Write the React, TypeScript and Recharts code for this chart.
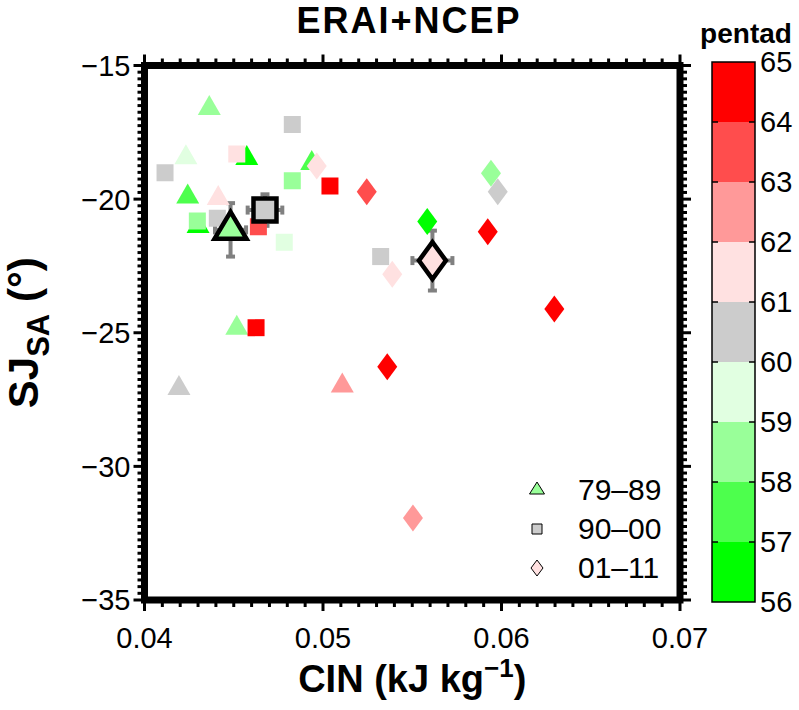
import React from 'react';
import { ScatterChart, Scatter, XAxis, YAxis, ReferenceArea, ErrorBar, Legend } from 'recharts';

// axis ticks
const xMajor = [0.04, 0.05, 0.06, 0.07];
const yMajor = [-35, -30, -25, -20, -15];
const xMinor = Array.from({ length: 31 }, (_, i) => +(0.04 + i * 0.001).toFixed(3));
const yMinor = Array.from({ length: 81 }, (_, i) => -35 + i * 0.25);

// colour bar
const pentadTicks = [56, 57, 58, 59, 60, 61, 62, 63, 64, 65];
const pentadColors = ['#00ff00', '#4dff4d', '#99ff99', '#e1ffe1', '#cccccc', '#ffe1e1', '#ff9999', '#ff4d4d', '#ff0000'];

// 79-89
const triCin = [0.04363, 0.04232, 0.04573, 0.04937, 0.04242, 0.04413, 0.043, 0.04517, 0.04193, 0.05108];
const triSj = [-16.6, -18.45, -18.47, -18.66, -19.91, -19.97, -21.02, -24.83, -27.08, -26.99];
const triPentad = [58, 59, 56, 57, 57, 61, 56, 58, 60, 62];

// 90-00
const sqCin = [0.04115, 0.04828, 0.04517, 0.04828, 0.05039, 0.04408, 0.04296, 0.04638, 0.04783, 0.05323, 0.04625];
const sqSj = [-19.01, -17.21, -18.31, -19.31, -19.51, -20.72, -20.82, -21.03, -21.61, -22.15, -24.81];
const sqPentad = [60, 60, 61, 58, 64, 60, 58, 63, 59, 60, 64];

// 01-11
const diaCin = [0.04965, 0.05245, 0.05941, 0.05979, 0.05584, 0.05923, 0.05388, 0.06296, 0.0536, 0.05504];
const diaSj = [-18.76, -19.72, -19.03, -19.72, -20.84, -21.22, -22.81, -24.11, -26.27, -31.93];
const diaPentad = [61, 63, 58, 60, 56, 64, 61, 64, 64, 62];

// period means
const periods = ['79–89', '90–00', '01–11'];
const meanCin = [0.04482, 0.04675, 0.05613];
const meanSj = [-21.15, -20.41, -22.3];
const meanCinErr = [0.00087, 0.00097, 0.00112];
const meanSjErr = [1.0, 0.59, 1.12];
const meanPentad = [58, 60, 61];

type Kind = 'triangle' | 'square' | 'diamond';
const kinds: Kind[] = ['triangle', 'square', 'diamond'];

const colorOf = (p: number) => pentadColors[Math.min(8, Math.max(0, Math.floor(p) - 56))];

const build = (xs: number[], ys: number[], ps: number[]) => xs.map((x, i) => ({ x, y: ys[i], pentad: ps[i] }));
const triData = build(triCin, triSj, triPentad);
const sqData = build(sqCin, sqSj, sqPentad);
const diaData = build(diaCin, diaSj, diaPentad);
const meanData = periods.map((name, i) => [
  { x: meanCin[i], y: meanSj[i], ex: meanCinErr[i], ey: meanSjErr[i], pentad: meanPentad[i] },
]);
// anchors so the colour-bar chart has its axis scale
const barAnchors = pentadTicks.map((p) => ({ x: 0.5, y: p }));

const sizes: any = {
  small: { triangle: [23, 20], square: [17, 17], diamond: [20, 27] },
  big: { triangle: [32, 27], square: [23, 23], diamond: [27, 37] },
  legend: { triangle: [15, 12], square: [10, 10], diamond: [12, 16] },
};

const Marker = ({ cx, cy, kind, fill, size, stroke, strokeWidth }: any) => {
  const dims = sizes[size] && sizes[size][kind];
  if (!dims || cx == null || cy == null) return null;
  const w = dims[0];
  const h = dims[1];
  let pts = '';
  if (kind === 'triangle') {
    pts = `${cx},${cy - (2 * h) / 3} ${cx + w / 2},${cy + h / 3} ${cx - w / 2},${cy + h / 3}`;
  } else if (kind === 'square') {
    pts = `${cx - w / 2},${cy - h / 2} ${cx + w / 2},${cy - h / 2} ${cx + w / 2},${cy + h / 2} ${cx - w / 2},${cy + h / 2}`;
  } else {
    pts = `${cx},${cy - h / 2} ${cx + w / 2},${cy} ${cx},${cy + h / 2} ${cx - w / 2},${cy}`;
  }
  return <polygon points={pts} fill={fill} stroke={stroke || 'none'} strokeWidth={strokeWidth || 0} strokeLinejoin="miter" />;
};

const isMajor = (v: number, majors: number[]) => majors.some((m) => Math.abs(m - v) < 1e-9);
const fmtY = (v: number) => (v < 0 ? '\u2212' + Math.abs(v) : String(v));

const BottomTick = ({ x, y, payload }: any) => {
  const major = isMajor(payload.value, xMajor);
  return (
    <g>
      <line x1={x} x2={x} y1={y} y2={y + (major ? 11 : 7)} stroke="#000" strokeWidth={3} />
      {major && (
        <text x={x} y={y + 48} textAnchor="middle" fontSize={29} fill="#000">
          {payload.value.toFixed(2)}
        </text>
      )}
    </g>
  );
};

const TopTick = ({ x, y, payload }: any) => {
  const major = isMajor(payload.value, xMajor);
  return <line x1={x} x2={x} y1={y} y2={y - (major ? 11 : 7)} stroke="#000" strokeWidth={3} />;
};

const LeftTick = ({ x, y, payload }: any) => {
  const major = isMajor(payload.value, yMajor);
  return (
    <g>
      <line x1={x} x2={x - (major ? 11 : 7)} y1={y} y2={y} stroke="#000" strokeWidth={3} />
      {major && (
        <text x={x - 14} y={y} dy="0.36em" textAnchor="end" fontSize={29} fill="#000">
          {fmtY(payload.value)}
        </text>
      )}
    </g>
  );
};

const RightTick = ({ x, y, payload }: any) => {
  const major = isMajor(payload.value, yMajor);
  return <line x1={x} x2={x + (major ? 11 : 7)} y1={y} y2={y} stroke="#000" strokeWidth={3} />;
};

const XTitle = ({ viewBox }: any) => {
  if (!viewBox) return null;
  return (
    <text x={viewBox.x + viewBox.width / 2} y={viewBox.y + viewBox.height + 32} textAnchor="middle" fontSize={38} fontWeight="bold" fill="#000">
      <tspan>CIN (kJ kg</tspan>
      <tspan dy={-15} fontSize={26}>{'\u2212'}1</tspan>
      <tspan dy={15}>)</tspan>
    </text>
  );
};

const YTitle = ({ viewBox }: any) => {
  if (!viewBox) return null;
  const tx = viewBox.x - 27;
  const ty = viewBox.y + viewBox.height / 2;
  return (
    <text x={tx} y={ty} transform={`rotate(-90, ${tx}, ${ty})`} textAnchor="middle" fontSize={42} fontWeight="bold" fill="#000">
      <tspan>SJ</tspan>
      <tspan dy={11} fontSize={31}>SA</tspan>
      <tspan dy={-11}> (°)</tspan>
    </text>
  );
};

const LegendContent = (props: any) => {
  const items = ((props && props.payload) || [])
    .filter((entry: any) => periods.indexOf(entry.value) >= 0)
    .sort((a: any, b: any) => periods.indexOf(a.value) - periods.indexOf(b.value));
  return (
    <div>
      {items.map((entry: any) => {
        const i = periods.indexOf(entry.value);
        return (
          <div key={entry.value} style={{ display: 'flex', alignItems: 'center', height: 39 }}>
            <svg width={24} height={39} style={{ marginRight: 29 }}>
              <Marker cx={12} cy={20} kind={kinds[i]} size="legend" fill={colorOf(meanPentad[i])} stroke="#000" strokeWidth={1} />
            </svg>
            <span style={{ fontSize: 30, lineHeight: '39px', color: '#000' }}>{entry.value}</span>
          </div>
        );
      })}
    </div>
  );
};

const cbWidth = 43;
const BarTick = ({ x, y, payload }: any) => {
  const inner = payload.value !== 56 && payload.value !== 65;
  return (
    <g>
      {inner && <line x1={x - 6} x2={x} y1={y} y2={y} stroke="#000" strokeWidth={1.5} />}
      {inner && <line x1={x - cbWidth} x2={x - cbWidth + 6} y1={y} y2={y} stroke="#000" strokeWidth={1.5} />}
      <text x={x + 5} y={y} dy="0.36em" fontSize={29} fill="#000">
        {payload.value}
      </text>
    </g>
  );
};

const TriShape = (p: any) => <Marker cx={p.cx} cy={p.cy} kind="triangle" size="small" fill={colorOf(p.payload ? p.payload.pentad : 60)} />;
const SqShape = (p: any) => <Marker cx={p.cx} cy={p.cy} kind="square" size="small" fill={colorOf(p.payload ? p.payload.pentad : 60)} />;
const DiaShape = (p: any) => <Marker cx={p.cx} cy={p.cy} kind="diamond" size="small" fill={colorOf(p.payload ? p.payload.pentad : 60)} />;
const smallShapes = [TriShape, SqShape, DiaShape];

const bigShape = (kind: Kind) => (p: any) => (
  <Marker cx={p.cx} cy={p.cy} kind={kind} size="big" fill={colorOf(p.payload ? p.payload.pentad : 60)} stroke="#000" strokeWidth={4.5} />
);
const bigShapes = kinds.map(bigShape);
const NoShape = () => <g />;

export default function App() {
  const series = [triData, sqData, diaData];
  return (
    <div style={{ position: 'absolute', left: 0, top: 0, width: 799, height: 710, background: '#fff', fontFamily: '"Liberation Sans", Arial, sans-serif' }}>
      <div style={{ position: 'absolute', left: 209, top: 1, width: 400, textAlign: 'center', fontSize: 36, lineHeight: '40px', letterSpacing: 2, fontWeight: 'bold' }}>
        ERAI+NCEP
      </div>
      <div style={{ position: 'absolute', left: 696, top: 20, width: 100, textAlign: 'center', fontSize: 28, lineHeight: '28px', fontWeight: 'bold' }}>
        pentad
      </div>

      <div style={{ position: 'absolute', left: 0, top: 0 }}>
        <ScatterChart width={799} height={710} margin={{ top: 45.5, right: 99, bottom: 50, left: 64.5 }}>
          <XAxis
            type="number"
            dataKey="x"
            domain={[0.04, 0.07]}
            allowDataOverflow
            ticks={xMinor}
            interval={0}
            height={60}
            axisLine={false}
            tickLine={false}
            tickSize={0}
            tickMargin={0}
            tick={BottomTick}
            label={<XTitle />}
          />
          <XAxis
            xAxisId="top"
            orientation="top"
            type="number"
            dataKey="x"
            domain={[0.04, 0.07]}
            allowDataOverflow
            ticks={xMinor}
            interval={0}
            height={20}
            axisLine={false}
            tickLine={false}
            tickSize={0}
            tickMargin={0}
            tick={TopTick}
          />
          <YAxis
            type="number"
            dataKey="y"
            domain={[-35, -15]}
            allowDataOverflow
            ticks={yMinor}
            interval={0}
            width={80}
            axisLine={false}
            tickLine={false}
            tickSize={0}
            tickMargin={0}
            tick={LeftTick}
            label={<YTitle />}
          />
          <YAxis
            yAxisId="right"
            orientation="right"
            type="number"
            dataKey="y"
            domain={[-35, -15]}
            allowDataOverflow
            ticks={yMinor}
            interval={0}
            width={20}
            axisLine={false}
            tickLine={false}
            tickSize={0}
            tickMargin={0}
            tick={RightTick}
          />
          <ReferenceArea x1={0.04} x2={0.07} y1={-35} y2={-15} fill="none" fillOpacity={0} stroke="#000" strokeWidth={7} ifOverflow="visible" />
          {series.map((data, i) => (
            <Scatter
              key={periods[i]}
              name={periods[i]}
              data={data}
              isAnimationActive={false}
              fill={colorOf(meanPentad[i])}
              shape={smallShapes[i]}
            />
          ))}
          {meanData.map((data, i) => (
            <Scatter
              key={'mean' + i}
              name={'mean ' + periods[i]}
              data={data}
              legendType="none"
              isAnimationActive={false}
              shape={bigShapes[i]}
            >
              <ErrorBar dataKey="ey" direction="y" width={4.5} strokeWidth={4} stroke="#808080" />
              <ErrorBar dataKey="ex" direction="x" width={4.5} strokeWidth={4} stroke="#808080" />
            </Scatter>
          ))}
          <Legend
            layout="vertical"
            align="center"
            verticalAlign="middle"
            content={LegendContent}
            wrapperStyle={{ left: 525, top: 470, width: 160 }}
          />
        </ScatterChart>
      </div>

      <div style={{ position: 'absolute', left: 700, top: 0 }}>
        <ScatterChart width={99} height={710} margin={{ top: 62, right: 0, bottom: 108, left: 12 }}>
          <XAxis type="number" dataKey="x" domain={[0, 1]} allowDataOverflow hide />
          <YAxis
            type="number"
            dataKey="y"
            orientation="right"
            width={44}
            domain={[56, 65]}
            allowDataOverflow
            ticks={pentadTicks}
            interval={0}
            axisLine={false}
            tickLine={false}
            tickSize={0}
            tickMargin={0}
            tick={BarTick}
          />
          <Scatter data={barAnchors} isAnimationActive={false} shape={NoShape} legendType="none" />
          {pentadColors.map((c, i) => (
            <ReferenceArea key={c} x1={0} x2={1} y1={pentadTicks[i]} y2={pentadTicks[i + 1]} fill={c} fillOpacity={1} stroke="none" ifOverflow="visible" />
          ))}
          <ReferenceArea x1={0} x2={1} y1={56} y2={65} fill="none" fillOpacity={0} stroke="#000" strokeWidth={1.5} ifOverflow="visible" />
        </ScatterChart>
      </div>
    </div>
  );
}
